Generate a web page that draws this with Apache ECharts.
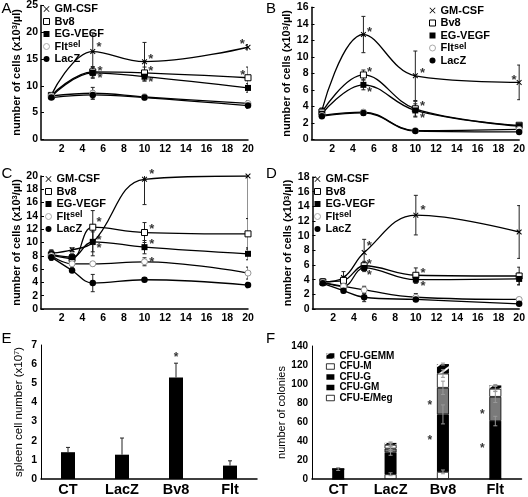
<!DOCTYPE html>
<html><head><meta charset="utf-8">
<script src="https://cdn.jsdelivr.net/npm/echarts@6/dist/echarts.min.js"></script>
<style>html,body{margin:0;padding:0;background:#fff}#c{width:528px;height:497px}</style>
</head><body><div id="c"></div>
<script>
const FONT = "'Liberation Sans', Arial, Helvetica, sans-serif";

// ---------- line panels ----------
const seriesNames = ['GM-CSF', 'Bv8', 'EG-VEGF', 'Fltsel', 'LacZ'];
const daysAB = [1, 5, 10, 20];
const daysCD = [1, 3, 5, 10, 20];

// Panel A
const A_GM   = [8.3, 16.4, 14.5, 17.2];
const A_Bv8  = [8.2, 12.6, 12.4, 11.5];
const A_EG   = [8.0, 12.4, 11.7, 9.6];
const A_Flt  = [8.1, 8.6, 7.9, 6.7];
const A_LacZ = [7.8, 8.3, 7.8, 6.3];
const A_GM_err   = [0.4, 3.5, 3.6, 0.5];
const A_Bv8_err  = [0.4, 1.0, 1.1, 2.0];
const A_EG_err   = [0.4, 1.0, 0.8, 0.8];
const A_Flt_err  = [0.3, 1.1, 0.5, 0.5];
const A_LacZ_err = [0.3, 0.8, 0.4, 0.5];
const A_stars = [[5.6, 17.7], [5.7, 13.3], [5.7, 11.9], [10.6, 15.4], [10.6, 13.3], [10.6, 11.25], [19.45, 18.3], [19.5, 12.5]];

// Panel B
const B_GM   = [3.5, 12.7, 7.7, 6.9];
const B_Bv8  = [3.3, 7.8, 3.7, 1.7];
const B_EG   = [3.1, 6.6, 3.5, 1.6];
const B_Flt  = [2.9, 3.3, 1.05, 1.2];
const B_LacZ = [2.8, 3.2, 1.0, 0.9];
const B_GM_err   = [0.3, 2.2, 3.0, 2.1];
const B_Bv8_err  = [0.3, 0.6, 0.9, 0.2];
const B_EG_err   = [0.3, 0.6, 0.8, 0.3];
const B_Flt_err  = [0.2, 0.3, 0.1, 0.2];
const B_LacZ_err = [0.2, 0.3, 0.1, 0.1];
const B_stars = [[5.6, 13.3], [5.6, 8.5], [5.6, 6.1], [10.7, 8.3], [10.7, 4.4], [10.7, 2.95], [19.5, 7.5]];

// Panel C
const C_GM   = [8.4, 8.9, 10.0, 19.5, 20.0];
const C_Bv8  = [8.1, 7.6, 12.3, 11.5, 11.3];
const C_EG   = [8.2, 7.8, 10.1, 9.3, 8.3];
const C_Flt  = [8.0, 6.8, 6.8, 7.1, 5.4];
const C_LacZ = [7.8, 5.8, 3.9, 4.4, 3.6];
const C_GM_err   = [0.5, 0.3, 2.0, 3.8, 6.4];
const C_Bv8_err  = [0.6, 0.5, 2.5, 1.5, 2.3];
const C_EG_err   = [0.6, 0.5, 1.5, 1.0, 0.9];
const C_Flt_err  = [0.5, 0.5, 0.3, 0.6, 0.9];
const C_LacZ_err = [0.5, 0.3, 1.3, 0.3, 0.4];
const C_stars = [[10.7, 20.65], [5.6, 13.5], [5.6, 10.7], [5.6, 9.6], [10.7, 12.4], [10.7, 10.1], [10.7, 7.5]];

// Panel D
const D_GM   = [3.7, 4.3, 7.7, 12.8, 10.5];
const D_Bv8  = [3.7, 3.9, 5.9, 4.6, 4.5];
const D_EG   = [3.6, 3.1, 5.6, 4.0, 4.1];
const D_Flt  = [3.6, 3.1, 2.6, 1.6, 1.3];
const D_LacZ = [3.5, 2.5, 1.6, 1.3, 0.7];
const D_GM_err   = [0.4, 0.8, 1.8, 2.7, 3.6];
const D_Bv8_err  = [0.4, 0.5, 0.6, 1.0, 1.2];
const D_EG_err   = [0.4, 0.5, 0.5, 0.5, 0.8];
const D_Flt_err  = [0.3, 0.4, 0.5, 0.5, 0.2];
const D_LacZ_err = [0.3, 0.3, 0.6, 0.2, 0.2];
const D_stars = [[5.5, 8.9], [5.5, 6.5], [5.5, 5.0], [10.7, 13.8], [10.7, 5.3], [10.7, 3.5]];

// ---------- bar panels ----------
const barCats = ['CT', 'LacZ', 'Bv8', 'Flt'];
const E_vals = [1.4, 1.27, 5.3, 0.7];
const E_err  = [0.25, 0.87, 0.75, 0.25];
const E_stars = [['Bv8', 6.5]];

const F_names = ['CFU-E/Meg', 'CFU-GM', 'CFU-G', 'CFU-M', 'CFU-GEMM'];
const F_EMeg = [0, 5, 7.5, 0];
const F_GM   = [10.5, 23, 60.5, 61];
const F_G    = [0, 4, 28, 25.5];
const F_M    = [0, 4, 15, 8.5];
const F_GEMM = [0, 2, 10, 3.5];
const F_EMeg_err = [0, 1.5, 2, 0];
const F_GM_err   = [1.5, 3, 10, 5];
const F_G_err    = [0, 3, 7, 6];
const F_M_err    = [0, 2, 4, 3];
const F_GEMM_err = [0, 1, 1, 1];
const F_stars = [['Bv8', 80], ['Bv8', 44], ['Flt', 70.5], ['Flt', 35]];

// ---------- styles ----------
const X_PATH = 'path://M0,1.3L1.3,0L5,3.7L8.7,0L10,1.3L6.3,5L10,8.7L8.7,10L5,6.3L1.3,10L0,8.7L3.7,5Z';
const X_PATH_THIN = 'path://M0,0.9L0.9,0L5,4.1L9.1,0L10,0.9L5.9,5L10,9.1L9.1,10L5,5.9L0.9,10L0,9.1L4.1,5Z';
const markerStyle = {
  'GM-CSF': { symbol: X_PATH, symbolSize: 5.5, itemStyle: { color: '#000' } },
  'Bv8': { symbol: 'rect', symbolSize: 6, itemStyle: { color: '#fff', borderColor: '#000', borderWidth: 1 } },
  'EG-VEGF': { symbol: 'rect', symbolSize: 6, itemStyle: { color: '#000' } },
  'Fltsel': { symbol: 'circle', symbolSize: 6, itemStyle: { color: '#fff', borderColor: '#999', borderWidth: 1 } },
  'LacZ': { symbol: 'circle', symbolSize: 6.5, itemStyle: { color: '#000' } }
};
const legendIcon = { 'GM-CSF': X_PATH_THIN, 'Bv8': 'rect', 'EG-VEGF': 'rect', 'Fltsel': 'circle', 'LacZ': 'circle' };
const legendItemStyle = {
  'GM-CSF': { color: '#000', borderWidth: 0 },
  'Bv8': { color: '#fff', borderColor: '#000', borderWidth: 1 },
  'EG-VEGF': { color: '#000', borderWidth: 0 },
  'Fltsel': { color: '#fff', borderColor: '#aaa', borderWidth: 1 },
  'LacZ': { color: '#000', borderWidth: 0 }
};

const linePanels = [
  { grid: { left: 41, right: 280, top: 5.3, bottom: 357.7 }, days: daysAB,
    vals: [A_GM, A_Bv8, A_EG, A_Flt, A_LacZ], errs: [A_GM_err, A_Bv8_err, A_EG_err, A_Flt_err, A_LacZ_err],
    stars: A_stars, ymax: 25, yint: 5, legend: { left: 43, top: 3 }, nameGap: 15 },
  { grid: { left: 311.5, right: 8, top: 7.3, bottom: 357.7 }, days: daysAB,
    vals: [B_GM, B_Bv8, B_EG, B_Flt, B_LacZ], errs: [B_GM_err, B_Bv8_err, B_EG_err, B_Flt_err, B_LacZ_err],
    stars: B_stars, ymax: 16, yint: 2, legend: { left: 429, top: 4.5 }, nameGap: 13.5 },
  { grid: { left: 41, right: 280, top: 176, bottom: 188 }, days: daysCD,
    vals: [C_GM, C_Bv8, C_EG, C_Flt, C_LacZ], errs: [C_GM_err, C_Bv8_err, C_EG_err, C_Flt_err, C_LacZ_err],
    stars: C_stars, ymax: 20, yint: 2, legend: { left: 45, top: 173 }, nameGap: 15 },
  { grid: { left: 312.5, right: 8, top: 177, bottom: 188 }, days: daysCD,
    vals: [D_GM, D_Bv8, D_EG, D_Flt, D_LacZ], errs: [D_GM_err, D_Bv8_err, D_EG_err, D_Flt_err, D_LacZ_err],
    stars: D_stars, ymax: 18, yint: 2, legend: { left: 314, top: 173 }, nameGap: 13.7 }
];

const grids = [], xAxes = [], yAxes = [], series = [], legends = [];

function errRender(params, api) {
  const x = api.value(0), y = api.value(1), e = api.value(2), mode = api.value(3);
  if (!e) return null;
  const top = api.coord([x, y + e]);
  const bot = api.coord([x, mode === 1 ? y : y - e]);
  const cw = 2;
  const st = { stroke: params.seriesName === 'errF' ? '#999' : '#222', lineWidth: 1 };
  const ch = [
    { type: 'line', shape: { x1: top[0], y1: top[1], x2: bot[0], y2: bot[1] }, style: st },
    { type: 'line', shape: { x1: top[0] - cw, y1: top[1], x2: top[0] + cw, y2: top[1] }, style: st }
  ];
  if (mode !== 1) ch.push({ type: 'line', shape: { x1: bot[0] - cw, y1: bot[1], x2: bot[0] + cw, y2: bot[1] }, style: st });
  return { type: 'group', children: ch };
}

function starSeries(idx, data, fs, off) {
  return {
    type: 'scatter', xAxisIndex: idx, yAxisIndex: idx, data: data, symbolSize: 1, clip: false, silent: true, z: 6,
    itemStyle: { color: 'rgba(0,0,0,0)' },
    label: { show: true, formatter: '*', position: 'inside', fontFamily: FONT, fontSize: fs, fontWeight: 'bold', color: '#000', offset: off || [0, 3] }
  };
}

const richSup = { sup: { fontFamily: FONT, fontSize: 7.5, fontWeight: 'bold', verticalAlign: 'top' } };

linePanels.forEach((p, gi) => {
  grids.push(p.grid);
  xAxes.push({
    type: 'value', gridIndex: gi, min: 0, max: 20, interval: 2,
    axisLine: { lineStyle: { color: '#000', width: 1.5 } }, axisTick: { show: false }, splitLine: { show: false },
    axisLabel: { formatter: v => (v === 0 ? '' : v), fontFamily: FONT, fontSize: 10.5, fontWeight: 'bold', color: '#000', margin: 4 }
  });
  yAxes.push({
    type: 'value', gridIndex: gi, min: 0, max: p.ymax, interval: p.yint,
    axisLine: { show: true, lineStyle: { color: '#000', width: 1.5 } },
    axisTick: { show: true, inside: true, length: 3, lineStyle: { color: '#000' } }, splitLine: { show: false },
    axisLabel: { fontFamily: FONT, fontSize: 10.5, fontWeight: 'bold', color: '#000', margin: 3 },
    name: 'number of cells (x10{sup|3}/\u00b5l)', nameLocation: 'middle', nameGap: p.nameGap,
    nameTextStyle: { fontFamily: FONT, fontSize: 11, fontWeight: 'bold', color: '#000', rich: richSup }
  });
  seriesNames.forEach((n, si) => {
    const m = markerStyle[n];
    series.push({
      type: 'line', name: n, xAxisIndex: gi, yAxisIndex: gi, smooth: 0.4, z: 3, silent: true,
      data: p.days.map((d, i) => [d, p.vals[si][i]]),
      symbol: m.symbol, symbolSize: m.symbolSize, showSymbol: true, itemStyle: m.itemStyle,
      lineStyle: { color: '#000', width: 1.3 }
    });
    series.push({
      type: 'custom', name: 'err', xAxisIndex: gi, yAxisIndex: gi, clip: true, silent: true, z: 2,
      data: p.days.map((d, i) => [d, p.vals[si][i], p.errs[si][i], 0]),
      encode: { x: 0, y: 1 }, renderItem: errRender
    });
  });
  series.push(starSeries(gi, p.stars, 13));
  legends.push({
    orient: 'vertical', left: p.legend.left, top: p.legend.top, padding: 0, itemGap: 0.5,
    itemWidth: 6, itemHeight: 6, selectedMode: false,
    textStyle: { fontFamily: FONT, fontSize: 11, fontWeight: 'bold', color: '#000', lineHeight: 12,
      rich: { sup: { fontFamily: FONT, fontSize: 9, fontWeight: 'bold', color: '#000', verticalAlign: 'top' } } },
    formatter: n => (n === 'Fltsel' ? 'Flt{sup|sel}' : n),
    data: seriesNames.map(n => ({ name: n, icon: legendIcon[n], itemStyle: legendItemStyle[n] }))
  });
});

// Panel E (grid 4)
grids.push({ left: 41, right: 271, top: 345, bottom: 16.7 });
xAxes.push({
  type: 'category', gridIndex: 4, data: barCats,
  axisLine: { lineStyle: { color: '#000', width: 1.5 } }, axisTick: { show: false },
  axisLabel: { fontFamily: FONT, fontSize: 14.5, fontWeight: 'bold', color: '#000', margin: 3 }
});
yAxes.push({
  type: 'value', gridIndex: 4, min: 0, max: 7, interval: 1,
  axisLine: { show: true, lineStyle: { color: '#000', width: 1 } }, axisTick: { show: false }, splitLine: { show: false },
  axisLabel: { fontFamily: FONT, fontSize: 10.5, fontWeight: 'bold', color: '#000', margin: 4 },
  name: 'spleen cell number (x10{sup|7})', nameLocation: 'middle', nameGap: 16,
  nameTextStyle: { fontFamily: FONT, fontSize: 11.5, color: '#000', rich: { sup: { fontFamily: FONT, fontSize: 7.5, verticalAlign: 'top' } } }
});
series.push({ type: 'bar', name: 'spleen', xAxisIndex: 4, yAxisIndex: 4, data: E_vals, barWidth: 14, itemStyle: { color: '#000' }, silent: true });
series.push({
  type: 'custom', name: 'errE', xAxisIndex: 4, yAxisIndex: 4, silent: true, z: 3,
  data: E_vals.map((v, i) => [i, v, E_err[i], 1]), encode: { x: 0, y: 1 }, renderItem: errRender
});
series.push(starSeries(4, E_stars, 12));

// Panel F (grid 5)
grids.push({ left: 312, right: 6.5, top: 346, bottom: 16.7 });
xAxes.push({
  type: 'category', gridIndex: 5, data: barCats,
  axisLine: { lineStyle: { color: '#000', width: 1.5 } }, axisTick: { show: false },
  axisLabel: { fontFamily: FONT, fontSize: 14.5, fontWeight: 'bold', color: '#000', margin: 3 }
});
yAxes.push({
  type: 'value', gridIndex: 5, min: 0, max: 140, interval: 20,
  axisLine: { show: true, lineStyle: { color: '#000', width: 1 } }, axisTick: { show: false }, splitLine: { show: false },
  axisLabel: { fontFamily: FONT, fontSize: 10, fontWeight: 'bold', color: '#000', margin: 4 },
  name: 'number of colonies', nameLocation: 'middle', nameGap: 22,
  nameTextStyle: { fontFamily: FONT, fontSize: 11, color: '#000' }
});
const gemmDecal = { symbol: 'rect', symbolSize: 1, color: '#fff', dashArrayX: [1, 0], dashArrayY: [1.2, 6], rotation: -Math.PI / 5 };
const F_vals = [F_EMeg, F_GM, F_G, F_M, F_GEMM];
const F_errs = [F_EMeg_err, F_GM_err, F_G_err, F_M_err, F_GEMM_err];
const F_styles = [
  { color: '#fff', borderColor: '#000', borderWidth: 0.8 },
  { color: '#000' },
  { color: '#000' },
  { color: '#fff', borderColor: '#000', borderWidth: 0.8 },
  { color: '#000', decal: gemmDecal }
];
F_names.forEach((n, si) => {
  series.push({
    type: 'bar', name: n, stack: 'F', xAxisIndex: 5, yAxisIndex: 5, barWidth: 12, silent: true,
    itemStyle: F_styles[si],
    data: F_vals[si].map(v => (n === 'CFU-G' ? { value: v, itemStyle: { color: '#7a7a7a', borderColor: '#000', borderWidth: 0.8 } } : v))
  });
});
const F_errData = [];
barCats.forEach((c, ci) => {
  let cum = 0;
  F_vals.forEach((arr, si) => {
    cum += arr[ci];
    F_errData.push([ci, cum, F_errs[si][ci], 0]);
  });
});
series.push({ type: 'custom', name: 'errF', xAxisIndex: 5, yAxisIndex: 5, silent: true, z: 4, data: F_errData, encode: { x: 0, y: 1 }, renderItem: errRender });
series.push(starSeries(5, F_stars, 12, [-13, 3]));

legends.push({
  orient: 'vertical', left: 326, top: 351, padding: 0, itemGap: 0.5, itemWidth: 8, itemHeight: 5.5, selectedMode: false,
  textStyle: { fontFamily: FONT, fontSize: 10, fontWeight: 'bold', color: '#000', lineHeight: 9 },
  data: [
    { name: 'CFU-GEMM', icon: 'rect', itemStyle: { color: '#000', decal: gemmDecal } },
    { name: 'CFU-M', icon: 'rect', itemStyle: { color: '#fff', borderColor: '#000', borderWidth: 0.8 } },
    { name: 'CFU-G', icon: 'rect', itemStyle: { color: '#000', borderWidth: 0 } },
    { name: 'CFU-GM', icon: 'rect', itemStyle: { color: '#000', borderWidth: 0 } },
    { name: 'CFU-E/Meg', icon: 'rect', itemStyle: { color: '#fff', borderColor: '#000', borderWidth: 0.8 } }
  ]
});

const letters = [['A', 1.5, 1], ['B', 266, 1], ['C', 1.5, 166], ['D', 266, 166], ['E', 1.5, 331], ['F', 266, 331]];
const graphic = letters.map(l => ({
  type: 'text', left: l[1], top: l[2], silent: true,
  style: { text: l[0], fontFamily: FONT, fontSize: 15, fill: '#000' }
}));

const chart = echarts.init(document.getElementById('c'), null, { renderer: 'canvas' });
chart.setOption({
  animation: false, backgroundColor: '#fff',
  grid: grids, xAxis: xAxes, yAxis: yAxes, series: series, legend: legends, graphic: graphic
});
</script></body></html>
